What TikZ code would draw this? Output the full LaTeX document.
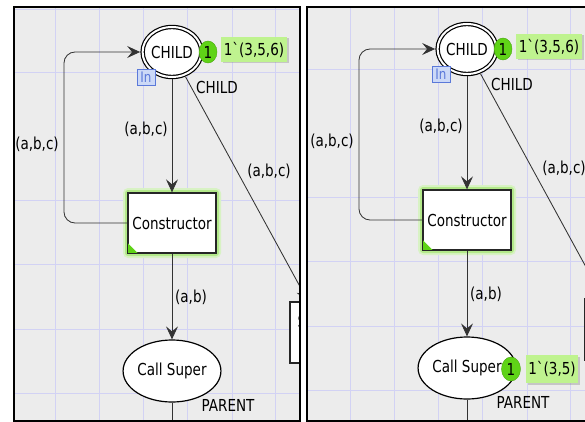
\documentclass[tikz,border=0pt]{standalone}
\usepackage{fontspec}
\newfontfamily\cpnfont{DejaVu Sans}[FakeStretch=0.82]
\usetikzlibrary{arrows.meta,shapes.geometric,shadows}

\definecolor{canvas}{HTML}{ECECEC}
\definecolor{gridline}{HTML}{D2D2F4}
\definecolor{tokgreen}{HTML}{5FD317}
\definecolor{markbg}{HTML}{BFF38F}
\definecolor{glowA}{HTML}{B3E98A}
\definecolor{glowB}{HTML}{D8F2C4}
\definecolor{inblue}{HTML}{5B79D9}
\definecolor{infill}{HTML}{CCD9F7}
\definecolor{arcgray}{HTML}{333333}

\tikzset{
  every node/.style={font=\cpnfont\fontsize{16.5}{19}\selectfont, text=black},
  place/.style={ellipse, draw=black, fill=white, line width=1.2pt, inner sep=0pt},
  inplace/.style={place, double=white, double distance=2pt, outer sep=2.5pt},
  trans/.style={rectangle, draw=black!85, fill=white, line width=1.3pt, inner sep=0pt},
  token/.style={ellipse, fill=tokgreen, draw=tokgreen!80!black, line width=0.4pt,
    minimum width=18pt, minimum height=22pt, inner sep=0pt},
  marking/.style={rectangle, fill=markbg, inner sep=0pt, minimum height=25pt,
    drop shadow={shadow xshift=1.5pt, shadow yshift=-1.5pt, opacity=0.35}},
  intag/.style={rectangle, draw=inblue, fill=infill, text=inblue, line width=0.8pt,
    inner sep=0pt, minimum width=18pt, minimum height=16pt,
    font=\cpnfont\fontsize{14.5}{16}\selectfont},
  arc/.style={draw=arcgray, line width=0.85pt},
  arcto/.style={arc, -{Stealth[length=13pt, width=12pt, inset=5pt]}},
  lbl/.style={inner sep=0pt},
  panelframe/.style={draw=black, line width=2pt},
}

\begin{document}
\begin{tikzpicture}[x=1pt, y=-1pt]
\useasboundingbox (0,0) rectangle (585,422);
\fill[white] (0,0) rectangle (585,422);

\foreach \p/\dx/\dy/\xa/\xb in {L/0/0/14/300, R/295/-3/307/600} {
  \begin{scope}
    \clip (\xa,7) rectangle (\xb,421);
    \fill[canvas] (\xa,7) rectangle (\xb,421);
    \begin{scope}[shift={(\dx,\dy)}]
      % editor grid
      \foreach \gx in {55,99,143,187,232,275}
        \draw[gridline, line width=0.9pt] (\gx,-20) -- (\gx,440);
      \foreach \gy in {9,72,200,264,329,393}
        \draw[gridline, line width=0.9pt] (-20,\gy) -- (320,\gy);

      % places and transitions
      \node[inplace, minimum width=53pt, minimum height=50pt] (\p-child) at (172,52) {CHILD};
      \node[token] (\p-childtok) at (208,52) {1};
      \node[marking, minimum width=66pt] (\p-childmark) at (254,49.5) {1\symbol{96}(3,5,6)};
      \node[intag] (\p-in) at (146,77) {In};
      \node[lbl] (\p-childtype) at (217,87) {CHILD};

      \fill[glowB, rounded corners=5pt] (123,188) rectangle (221,258);
      \fill[glowA, rounded corners=3pt] (125,190) rectangle (219,256);
      \node[trans, minimum width=88pt, minimum height=60pt] (\p-cons) at (172,223) {Constructor};
      \fill[tokgreen] (\p-cons.south west) -- ++(11,0) -- ++(-11,-11) -- cycle;
      \draw[black!85, line width=1.3pt] (\p-cons.south west) rectangle (\p-cons.north east);

      \node[place, minimum width=80pt, minimum height=62pt] (\p-super) at (172,371) {Call Super};
      \node[lbl] (\p-supertype) at (228,405) {PARENT};

      \node[trans, minimum width=70pt, minimum height=61pt] (\p-side) at (325,332.5) {};

      % arcs
      \coordinate (\p-loop) at (64,140);
      \coordinate (\p-down) at (172,440);
      \draw[arcto, rounded corners=11pt] (\p-cons.west) -| (\p-loop) |- (\p-child.west);
      \draw[arcto] (\p-child) -- (\p-cons);
      \draw[arcto] (\p-child) -- (\p-side);
      \draw[arcto] (\p-cons) -- (\p-super);
      \draw[arc] (\p-super.south) -- (\p-down);

      % arc inscriptions
      \node[lbl] (\p-lbloop) at (37,144) {(a,b,c)};
      \node[lbl] (\p-lblmid) at (146,129) {(a,b,c)};
      \node[lbl] (\p-lbldiag) at (269,171) {(a,b,c)};
      \node[lbl] (\p-lblab) at (191,297) {(a,b)};
    \end{scope}
  \end{scope}
  \draw[panelframe] (\xa,7) rectangle (\xb,421);
}

% name of the neighbouring transition, cut by the left editor frame
\begin{scope}
  \clip (14,7) rectangle (300,421);
  \node[lbl, anchor=west] (L-sidename) at (297.5,321) {S};
\end{scope}
\draw[panelframe] (300,7) -- (300,421);

% marking of PARENT after the step
\node[token, minimum width=19pt, minimum height=24pt] (R-supertok) at (511,369) {1};
\node[marking, minimum width=52pt, minimum height=28pt] (R-supermark) at (552,369) {1\symbol{96}(3,5)};
\end{tikzpicture}
\end{document}
